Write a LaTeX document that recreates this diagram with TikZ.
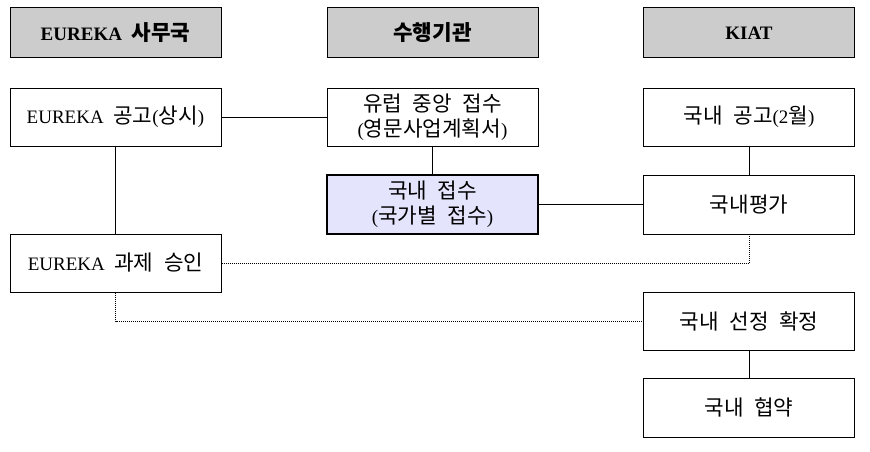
\documentclass[tikz,border=0pt]{standalone}
\usepackage{fontspec}
\setmainfont{Liberation Serif}
\newfontfamily\kr[Scale=1.12]{Noto Sans CJK KR}
\newcommand\ks{\hspace{0.5em}}
\definecolor{hdr}{RGB}{204,204,204}
\definecolor{lav}{RGB}{228,228,252}
\begin{document}
\begin{tikzpicture}[x=1pt,y=-1pt,
  box/.style={draw,line width=1pt,minimum width=211pt,minimum height=58pt,inner sep=0pt,align=center,font=\fontsize{19}{25}\selectfont},
  hbox/.style={box,fill=hdr,minimum height=50pt,font=\fontsize{19}{25}\selectfont\bfseries},
  link/.style={draw,line width=0.9pt},
  dotlink/.style={draw,line width=0.9pt,dash pattern=on 1pt off 1pt}]
\useasboundingbox (0,0) rectangle (870,452);
% headers
\node[hbox] (h1) at (115.5,33) {EUREKA\ks{\kr 사무국}};
\node[hbox] (h2) at (432.5,33) {{\kr 수행기관}};
\node[hbox] (h3) at (749,33) {KIAT};
% row 1
\node[box] (a1) at (115.5,117) {EUREKA\ks{\kr 공고}({\kr 상시})};
\node[box] (b1) at (432.5,117) {{\kr 유럽\ks 중앙\ks 접수}\\({\kr 영문사업계획서})};
\node[box] (c1) at (749,117) {{\kr 국내\ks 공고}(2{\kr 월})};
% row 2
\node[box,fill=lav,line width=2pt,minimum height=59pt] (b2) at (432.5,204.5) {{\kr 국내\ks 접수}\\({\kr 국가별\ks 접수})};
\node[box,minimum height=59pt] (c2) at (749,204.5) {{\kr 국내평가}};
% row 3
\node[box] (a3) at (115.5,263) {EUREKA\ks{\kr 과제\ks 승인}};
\node[box] (c3) at (749,321) {{\kr 국내\ks 선정\ks 확정}};
\node[box,minimum height=59pt] (c4) at (749,407.5) {{\kr 국내\ks 협약}};
% connectors
\draw[link] (a1.east) -- (b1.west);
\draw[link] (a1.south) -- (a3.north);
\draw[link] (b1.south) -- (b2.north);
\draw[link] (c1.south) -- (c2.north);
\draw[link] (b2.east) -- (c2.west);
\draw[link] (c3.south) -- (c4.north);
\draw[dotlink] (a3.east) -- (a3.east -| c2.south) -- (c2.south);
\draw[dotlink] (a3.south) -- (a3.south |- c3.west) -- (c3.west);
\end{tikzpicture}
\end{document}
